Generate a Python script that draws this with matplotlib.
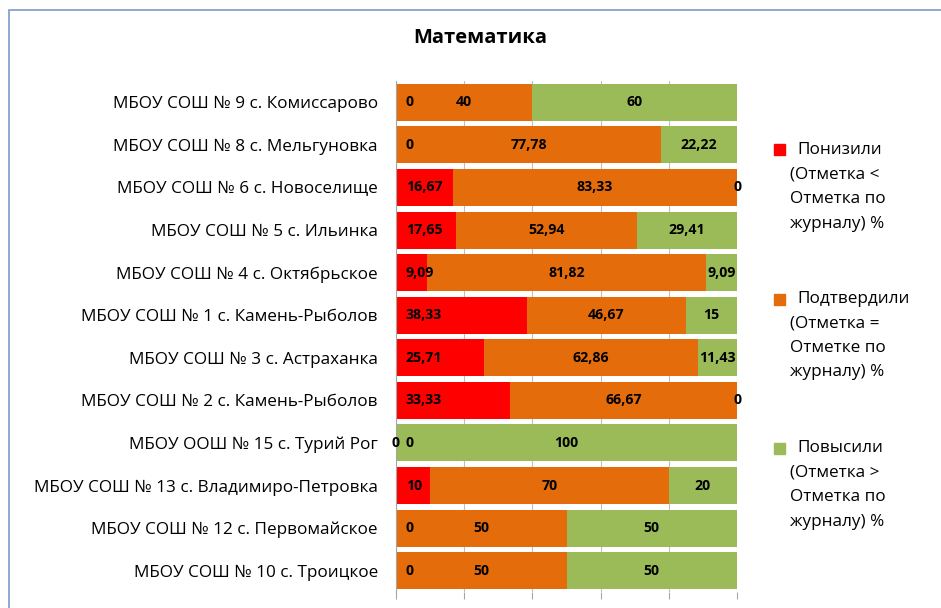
import numpy as np
import matplotlib.pyplot as plt
from matplotlib.patches import Rectangle

plt.rcParams['font.family'] = ['Open Sans', 'DejaVu Sans']

schools = [
    'МБОУ СОШ № 9 с. Комиссарово',
    'МБОУ СОШ № 8 с. Мельгуновка',
    'МБОУ СОШ № 6 с. Новоселище',
    'МБОУ СОШ № 5 с. Ильинка',
    'МБОУ СОШ № 4 с. Октябрьское',
    'МБОУ СОШ № 1 с. Камень-Рыболов',
    'МБОУ СОШ № 3 с. Астраханка',
    'МБОУ СОШ № 2 с. Камень-Рыболов',
    'МБОУ ООШ № 15 с. Турий Рог',
    'МБОУ СОШ № 13 с. Владимиро-Петровка',
    'МБОУ СОШ № 12 с. Первомайское',
    'МБОУ СОШ № 10 с. Троицкое',
]
lowered = [0, 0, 16.67, 17.65, 9.09, 38.33, 25.71, 33.33, 0, 10, 0, 0]
confirmed = [40, 77.78, 83.33, 52.94, 81.82, 46.67, 62.86, 66.67, 0, 70, 50, 50]
raised = [60, 22.22, 0, 29.41, 9.09, 15, 11.43, 0, 100, 20, 50, 50]

series_names = [
    'Понизили\n(Отметка <\nОтметка по\nжурналу) %',
    'Подтвердили\n(Отметка =\nОтметке по\nжурналу) %',
    'Повысили\n(Отметка >\nОтметка по\nжурналу) %',
]
colors = ['#FF0000', '#E46C0A', '#9BBB59']

W, H = 941, 608
fig = plt.figure(figsize=(W / 100, H / 100), dpi=100)

def fx(px):
    return px / W

def fy(py):
    return 1 - py / H

ax = fig.add_axes([fx(396), fy(592), fx(737) - fx(396), fy(81) - fy(592)])

y = np.arange(len(schools))
low = np.array(lowered)
conf = np.array(confirmed)
rai = np.array(raised)
bh = 0.87

ax.barh(y, low, height=bh, color=colors[0], zorder=2)
ax.barh(y, conf, left=low, height=bh, color=colors[1], zorder=2)
ax.barh(y, rai, left=low + conf, height=bh, color=colors[2], zorder=2)

def fmt(v):
    s = ('%.2f' % v).rstrip('0').rstrip('.')
    return s.replace('.', ',')

lab = dict(fontsize=10.2, fontweight='bold', color='black', va='center', zorder=3)
for i in range(len(schools)):
    # red labels sit at the inside base
    ax.annotate(fmt(low[i]), (0, y[i]), xytext=(7, 0), textcoords='offset points',
                ha='left', **lab)
    ax.text(low[i] + conf[i] / 2, y[i], fmt(conf[i]), ha='center', **lab)
    ax.text(low[i] + conf[i] + rai[i] / 2, y[i], fmt(rai[i]), ha='center', **lab)

ax.set_xlim(0, 100)
ax.set_ylim(len(schools) - 0.5, -0.5)
ax.set_xticks([0, 20, 40, 60, 80, 100])
ax.set_xticklabels([])
ax.tick_params(axis='x', length=5, color='#A6A6A6', direction='out')
ax.tick_params(axis='y', length=0, pad=13, labelsize=12.3)
ax.set_yticks(y)
ax.set_yticklabels(schools)
ax.grid(axis='x', color='#BFBFBF', linewidth=0.8, zorder=0)
for s in ['top', 'right', 'bottom']:
    ax.spines[s].set_visible(False)
ax.spines['left'].set_color('#A6A6A6')

fig.text(fx(480), fy(38), 'Математика', ha='center', va='center',
         fontsize=14.5, fontweight='bold')

# legend
for k, name in enumerate(series_names):
    y0 = 150 + k * 149
    lines = name.split('\n')
    fig.patches.append(Rectangle((fx(774), fy(y0 + 5.5)), fx(11), 11 / H,
                                 transform=fig.transFigure, color=colors[k]))
    fig.text(fx(797), fy(y0), lines[0], ha='left', va='center', fontsize=12.3)
    for j, ln in enumerate(lines[1:], start=1):
        fig.text(fx(790), fy(y0 + j * 24.5), ln, ha='left', va='center', fontsize=12.3)

# chart area border
fig.patches.append(Rectangle((fx(9), fy(H + 20)), fx(W + 20), (H + 10) / H,
                             transform=fig.transFigure, fill=False,
                             edgecolor='#7A9CCB', linewidth=1.2))

fig.savefig('out.png', dpi=100)
